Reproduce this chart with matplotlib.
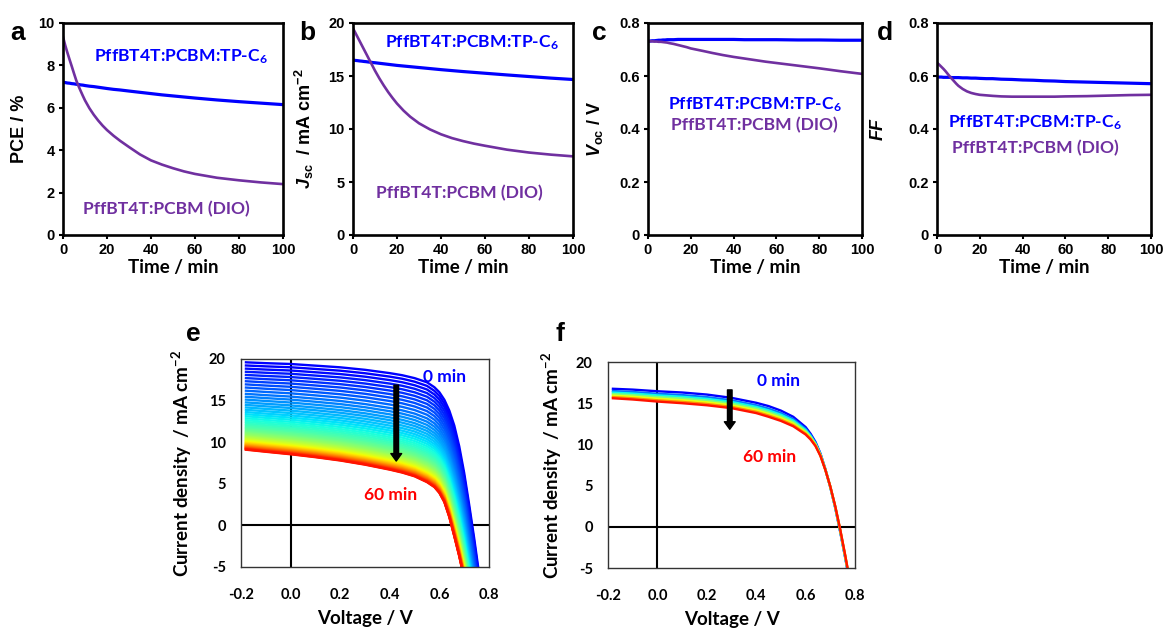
import numpy as np
import matplotlib
matplotlib.use("Agg")
import matplotlib.pyplot as plt
from matplotlib.ticker import FuncFormatter, MultipleLocator
from matplotlib.patches import FancyArrowPatch

plt.rcParams['axes.unicode_minus'] = False
plt.rcParams['mathtext.default'] = 'regular'
plt.rcParams['mathtext.fontset'] = 'custom'
plt.rcParams['mathtext.it'] = 'Liberation Sans:italic:bold'
plt.rcParams['mathtext.rm'] = 'Liberation Sans:bold'
plt.rcParams['mathtext.bf'] = 'Liberation Sans:bold'

# ---------------- data ----------------
t = [0, 1, 2, 3, 4, 5, 6, 7, 8, 9, 10, 12, 14, 16, 18, 20, 23, 26, 30, 35, 40, 45, 50, 55, 60, 70, 80, 90, 100]
pce_tp = [7.2, 7.19, 7.17, 7.16, 7.14, 7.13, 7.11, 7.1, 7.08, 7.07, 7.05, 7.02, 7.0, 6.97, 6.94, 6.91, 6.87,
          6.84, 6.79, 6.73, 6.67, 6.61, 6.56, 6.51, 6.46, 6.37, 6.29, 6.22, 6.15]
pce_dio = [9.35, 8.95, 8.6, 8.27, 7.95, 7.62, 7.3, 7.04, 6.8, 6.57, 6.35, 5.98, 5.67, 5.4, 5.16, 4.95, 4.68,
           4.44, 4.15, 3.8, 3.52, 3.32, 3.15, 3.0, 2.88, 2.7, 2.58, 2.48, 2.4]
jsc_tp = [16.5, 16.47, 16.45, 16.42, 16.4, 16.37, 16.35, 16.32, 16.3, 16.27, 16.25, 16.2, 16.15, 16.1, 16.05,
          16.0, 15.94, 15.88, 15.8, 15.7, 15.6, 15.51, 15.42, 15.34, 15.26, 15.1, 14.95, 14.8, 14.67]
jsc_dio = [19.5, 19.1, 18.7, 18.3, 17.9, 17.5, 17.1, 16.7, 16.3, 15.9, 15.5, 14.77, 14.1, 13.48, 12.92, 12.4,
           11.73, 11.16, 10.54, 9.96, 9.5, 9.14, 8.86, 8.62, 8.42, 8.05, 7.78, 7.58, 7.42]
voc_tp = [0.731, 0.732, 0.733, 0.733, 0.734, 0.735, 0.735, 0.736, 0.736, 0.737, 0.737, 0.737, 0.738, 0.738,
          0.738, 0.738, 0.738, 0.738, 0.738, 0.738, 0.738, 0.737, 0.737, 0.737, 0.737, 0.736, 0.736, 0.735, 0.735]
voc_dio = [0.731, 0.731, 0.731, 0.730, 0.730, 0.729, 0.729, 0.728, 0.727, 0.726, 0.724, 0.721, 0.717, 0.713,
           0.709, 0.704, 0.699, 0.694, 0.687, 0.679, 0.672, 0.666, 0.660, 0.654, 0.649, 0.639, 0.629, 0.618, 0.608]
ff_tp = [0.596, 0.596, 0.596, 0.595, 0.595, 0.595, 0.595, 0.594, 0.594, 0.594, 0.594, 0.593, 0.593, 0.592,
         0.592, 0.591, 0.590, 0.590, 0.588, 0.587, 0.585, 0.584, 0.582, 0.581, 0.579, 0.577, 0.575, 0.573, 0.571]
ff_dio = [0.65, 0.643, 0.635, 0.627, 0.618, 0.608, 0.598, 0.589, 0.58, 0.571, 0.563, 0.551, 0.542, 0.536,
          0.532, 0.529, 0.527, 0.525, 0.523, 0.522, 0.522, 0.522, 0.522, 0.522, 0.523, 0.524, 0.526, 0.528, 0.529]

# J-V curves (panel e: DIO device), first and last scans
v_e = [-0.18, -0.1, 0.0, 0.1, 0.2, 0.3, 0.4, 0.45, 0.5, 0.55, 0.58, 0.6, 0.62, 0.64, 0.66, 0.68, 0.70, 0.72, 0.74, 0.76, 0.78]
j_e_0 = [19.6, 19.5, 19.4, 19.2, 19.0, 18.7, 18.3, 18.05, 17.7, 17.2, 16.6, 16.0, 15.1, 13.8, 12.0, 9.5, 6.3, 2.5, -1.5, -5.8, -10.0]
j_e_60 = [9.1, 8.85, 8.55, 8.2, 7.8, 7.3, 6.7, 6.35, 5.9, 5.2, 4.6, 3.9, 2.8, 1.0, -1.3, -3.7, -6.4, -9.5, -13.0, -17.0, -21.0]
# Jsc of each scan, 0..60 min (one per minute)
jsc_e_scans = [19.5, 19.1, 18.7, 18.3, 17.9, 17.5, 17.1, 16.7, 16.3, 15.9, 15.5, 15.13, 14.77, 14.42, 14.1,
               13.78, 13.48, 13.19, 12.92, 12.66, 12.4, 12.16, 11.94, 11.73, 11.53, 11.34, 11.16, 10.99, 10.83,
               10.68, 10.54, 10.41, 10.29, 10.17, 10.06, 9.96, 9.86, 9.76, 9.67, 9.58, 9.5, 9.42, 9.34, 9.27,
               9.2, 9.14, 9.08, 9.02, 8.96, 8.91, 8.86, 8.81, 8.76, 8.71, 8.66, 8.62, 8.58, 8.54, 8.5, 8.46, 8.42]

# panel f: TP-C6 device
v_f = [-0.18, -0.1, 0.0, 0.1, 0.2, 0.3, 0.4, 0.45, 0.5, 0.55, 0.6, 0.62, 0.64, 0.66, 0.68, 0.70, 0.72, 0.74, 0.76, 0.78, 0.80]
j_f_0 = [16.75, 16.65, 16.45, 16.3, 16.05, 15.65, 15.05, 14.65, 14.1, 13.35, 12.1, 11.3, 10.3, 8.9, 7.0, 4.8, 2.3, -0.6, -3.7, -7.0, -10.5]
j_f_60 = [15.6, 15.45, 15.2, 15.0, 14.75, 14.4, 13.8, 13.35, 12.85, 12.2, 11.2, 10.6, 9.8, 8.6, 6.9, 4.9, 2.5, -0.3, -3.4, -6.7, -10.2]
jsc_f_scans = [16.5, 16.2, 16.0, 15.8, 15.6, 15.4, 15.25]

BLUE = '#0000FF'
PURPLE = '#7030A0'
LATO = 'Lato'
ARIAL = 'Liberation Sans'

W, H = 1163, 628
fig = plt.figure(figsize=(W / 100, H / 100), dpi=100)


def rect(l, r, top, bot):
    return [l / W, 1 - bot / H, (r - l) / W, (bot - top) / H]


def style_top(ax, ymax, ystep, fmt):
    ax.set_xlim(0, 100)
    ax.set_ylim(0, ymax)
    ax.xaxis.set_major_locator(MultipleLocator(20))
    ax.yaxis.set_major_locator(MultipleLocator(ystep))
    ax.yaxis.set_major_formatter(FuncFormatter(fmt))
    for s in ax.spines.values():
        s.set_linewidth(1.9)
    ax.tick_params(direction='out', length=3, width=1.5, pad=3)
    for lab in ax.get_xticklabels() + ax.get_yticklabels():
        lab.set_fontfamily(ARIAL)
        lab.set_fontweight('bold')
        lab.set_fontsize(10.5)
    ax.set_xlabel('Time / min', fontfamily=LATO, fontweight='bold', fontsize=13.5, labelpad=1)


int_fmt = lambda v, p: '%d' % round(v)
dec_fmt = lambda v, p: '0' if abs(v) < 1e-9 else '%.1f' % v

txt_kw = dict(fontfamily=LATO, fontweight='bold', fontsize=12.6, va='center', ha='left')
lab_tp = 'PffBT4T:PCBM:TP-C$_6$'
lab_dio = 'PffBT4T:PCBM (DIO)'
ylab_kw = dict(fontfamily=ARIAL, fontweight='bold', fontsize=13)

# a
ax = fig.add_axes(rect(63, 283, 23, 235))
ax.plot(t, pce_tp, color=BLUE, lw=2.3)
ax.plot(t, pce_dio, color=PURPLE, lw=1.9)
style_top(ax, 10, 2, int_fmt)
ax.set_ylabel('PCE / %', **ylab_kw)
ax.yaxis.set_label_coords(-0.16, 0.5)
ax.text(14.1, 8.4, lab_tp, color=BLUE, **txt_kw)
ax.text(9.1, 1.23, lab_dio, color=PURPLE, **txt_kw)

# b
ax = fig.add_axes(rect(353, 573, 23, 235))
ax.plot(t, jsc_tp, color=BLUE, lw=2.3)
ax.plot(t, jsc_dio, color=PURPLE, lw=1.9)
style_top(ax, 20, 5, int_fmt)
ax.set_ylabel('$\\mathit{J}_{sc}$  / mA cm$^{-2}$', **ylab_kw)
ax.yaxis.set_label_coords(-0.17, 0.5)
ax.text(14.5, 18.1, lab_tp, color=BLUE, **txt_kw)
ax.text(10.5, 3.96, lab_dio, color=PURPLE, **txt_kw)

# c
ax = fig.add_axes(rect(648, 862, 23, 235))
ax.plot(t, voc_tp, color=BLUE, lw=2.3)
ax.plot(t, voc_dio, color=PURPLE, lw=1.9)
style_top(ax, 0.8, 0.2, dec_fmt)
ax.set_ylabel('$\\mathit{V}_{oc}$ / V', **ylab_kw)
ax.yaxis.set_label_coords(-0.20, 0.5)
ax.text(9.3, 0.49, lab_tp, color=BLUE, **txt_kw)
ax.text(10.7, 0.415, lab_dio, color=PURPLE, **txt_kw)

# d
ax = fig.add_axes(rect(937, 1151, 23, 235))
ax.plot(t, ff_tp, color=BLUE, lw=2.3)
ax.plot(t, ff_dio, color=PURPLE, lw=1.9)
style_top(ax, 0.8, 0.2, dec_fmt)
ax.set_ylabel('$\\mathit{FF}$', **ylab_kw)
ax.yaxis.set_label_coords(-0.235, 0.5)
ax.text(5.1, 0.423, lab_tp, color=BLUE, **txt_kw)
ax.text(7.0, 0.328, lab_dio, color=PURPLE, **txt_kw)


def style_bottom(ax):
    ax.set_xlim(-0.2, 0.8)
    ax.set_ylim(-5, 20)
    ax.xaxis.set_major_locator(MultipleLocator(0.2))
    ax.yaxis.set_major_locator(MultipleLocator(5))
    ax.xaxis.set_major_formatter(FuncFormatter(lambda v, p: '%.1f' % v))
    ax.yaxis.set_major_formatter(FuncFormatter(int_fmt))
    for s in ax.spines.values():
        s.set_linewidth(1.0)
        s.set_color('#333333')
    ax.tick_params(length=0)
    ax.tick_params(axis='x', pad=15)
    ax.tick_params(axis='y', pad=11)
    for lab in ax.get_xticklabels() + ax.get_yticklabels():
        lab.set_fontfamily(LATO)
        lab.set_fontweight('bold')
        lab.set_fontsize(10.5)
    ax.axhline(0, color='black', lw=1.5, zorder=1)
    ax.axvline(0, color='black', lw=1.5, zorder=1)
    ax.set_xlabel('Voltage / V', fontfamily=LATO, fontweight='bold', fontsize=13.5, labelpad=6)
    ax.set_ylabel('Current density  / mA cm$^{-2}$', fontfamily=LATO, fontweight='bold', fontsize=13.5)


def draw_scans(ax, v, j0, j60, jsc_list, lw):
    j0 = np.asarray(j0)
    j60 = np.asarray(j60)
    n = len(jsc_list)
    cmap = plt.get_cmap('jet')
    for k, js in enumerate(jsc_list):
        frac = (js - jsc_list[-1]) / (jsc_list[0] - jsc_list[-1])
        jj = j60 + frac * (j0 - j60)
        ax.plot(v, jj, color=cmap(0.11 + 0.78 * k / (n - 1)), lw=lw, zorder=2)


def add_arrow(ax, x, y0, y1):
    arr = FancyArrowPatch((x, y0), (x, y1), arrowstyle='simple,head_length=0.9,head_width=1.3,tail_width=0.55',
                          mutation_scale=6, color='black', zorder=5)
    ax.add_patch(arr)


# e
ax = fig.add_axes(rect(241, 489, 359, 567))
draw_scans(ax, v_e, j_e_0, j_e_60, jsc_e_scans, 1.7)
style_bottom(ax)
ax.yaxis.set_label_coords(-0.19, 0.5)
add_arrow(ax, 0.426, 17.2, 7.4)
ax.text(0.535, 17.8, '0 min', color=BLUE, fontfamily=LATO, fontweight='bold', fontsize=12.5, va='center', ha='left')
ax.text(0.297, 3.7, '60 min', color='#FF0000', fontfamily=LATO, fontweight='bold', fontsize=12.5, va='center', ha='left')

# f
ax = fig.add_axes(rect(608, 855, 362, 568))
draw_scans(ax, v_f, j_f_0, j_f_60, jsc_f_scans, 1.7)
style_bottom(ax)
ax.yaxis.set_label_coords(-0.18, 0.5)
add_arrow(ax, 0.293, 16.95, 11.5)
ax.text(0.405, 17.75, '0 min', color=BLUE, fontfamily=LATO, fontweight='bold', fontsize=12.5, va='center', ha='left')
ax.text(0.345, 8.45, '60 min', color='#FF0000', fontfamily=LATO, fontweight='bold', fontsize=12.5, va='center', ha='left')

# panel letters
for lt, x, y in [('a', 10, 33), ('b', 299, 33), ('c', 592, 33), ('d', 877, 33), ('e', 186, 334), ('f', 556, 334)]:
    fig.text(x / W, 1 - y / H, lt, fontfamily=ARIAL, fontweight='bold', fontsize=19, va='center', ha='left')

fig.savefig('out.png', dpi=100)
